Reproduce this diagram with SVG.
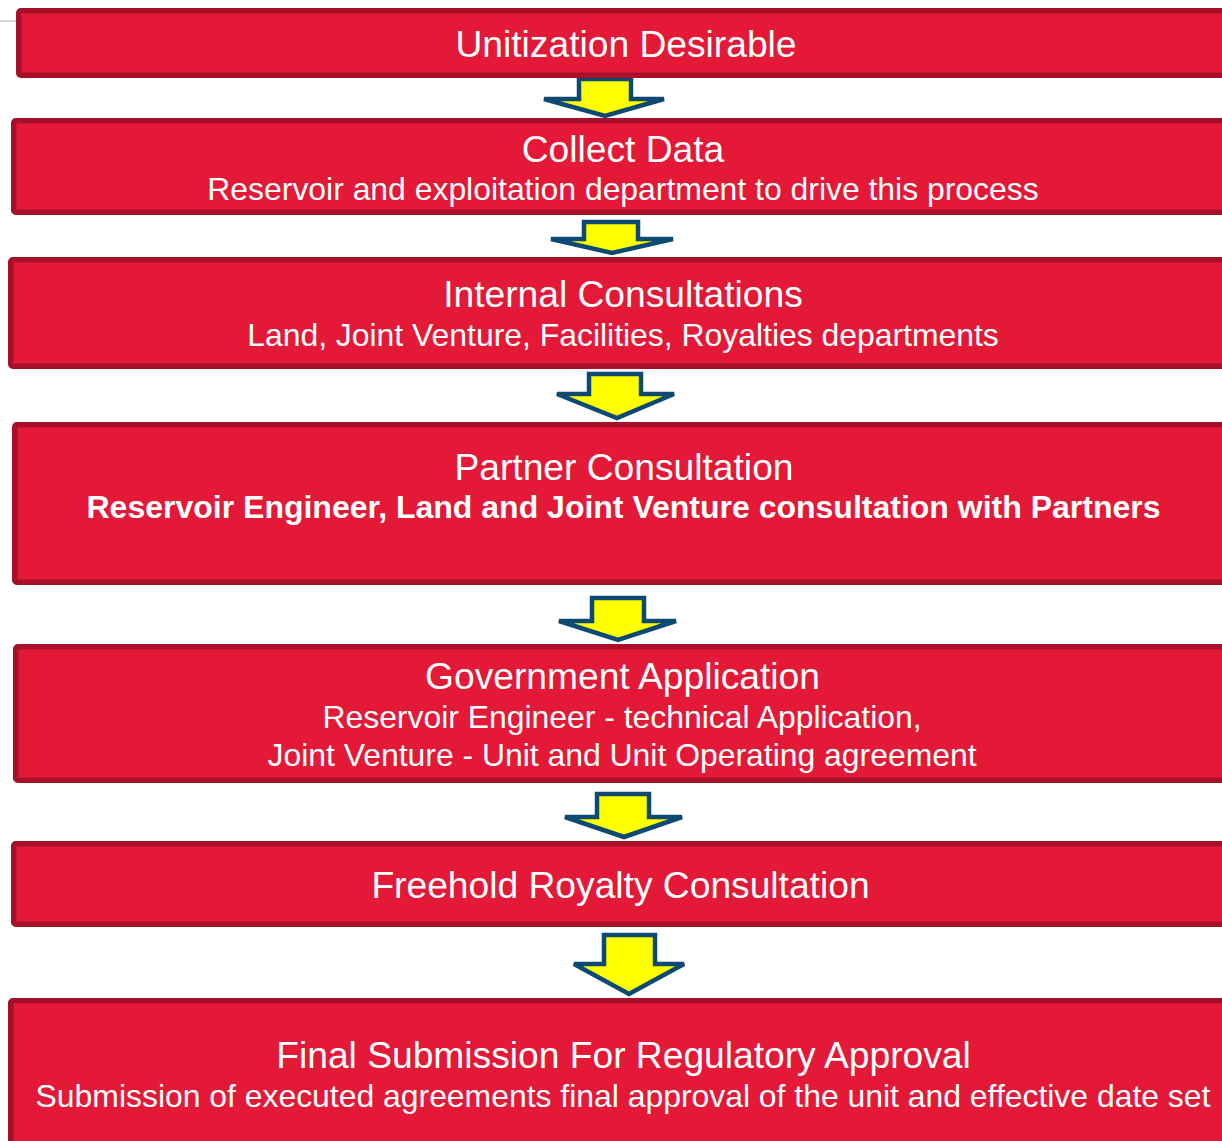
<svg xmlns="http://www.w3.org/2000/svg" width="1222" height="1141" viewBox="0 0 1222 1141">
<style>
.box{fill:#E31937;stroke:#A8102A;stroke-width:5.5}
.arr{fill:#FFFF00;stroke:#0C4A73;stroke-width:4.5;stroke-linejoin:miter}
.t{font-family:"Liberation Sans",Arial,sans-serif;fill:#FFFFFF;text-anchor:middle}
.h{font-size:37.2px}
.s{font-size:31.9px}
.b{font-size:32px;font-weight:bold}
</style>
<rect width="1222" height="1141" fill="#FFFFFF"/>
<line x1="0" y1="21" x2="16" y2="21" stroke="#C8C8C8" stroke-width="1.5"/>
<g id="connectors">
<polygon class="arr" points="579,79 631,79 631,99 664,99 605,116 544,99 579,99"/>
<polygon class="arr" points="584,222 638,222 638,239 673,239 612,253 551,239 584,239"/>
<polygon class="arr" points="589,374 641,374 641,394 674,394 617,418 557,394 589,394"/>
<polygon class="arr" points="592,598 644,598 644,621 676,621 618,640 559,621 592,621"/>
<polygon class="arr" points="597,794 649,794 649,817 682,817 624,837 565,817 597,817"/>
<polygon class="arr" points="604,935 655,935 655,964 684,964 629,994 574,964 604,964"/>
</g>
<g id="n1">
<rect class="box" x="18.75" y="10.75" width="1230" height="64.5" rx="2"/>
<text class="t h" x="626" y="57">Unitization Desirable</text>
</g>
<g id="n2">
<rect class="box" x="13.75" y="120.75" width="1230" height="91.5" rx="2"/>
<text class="t h" x="623" y="162">Collect Data</text>
<text class="t s" x="623" y="200">Reservoir and exploitation department to drive this process</text>
</g>
<g id="n3">
<rect class="box" x="10.75" y="259.75" width="1230" height="106.5" rx="2"/>
<text class="t h" x="623" y="307">Internal Consultations</text>
<text class="t s" x="623" y="346">Land, Joint Venture, Facilities, Royalties departments</text>
</g>
<g id="n4">
<rect class="box" x="14.75" y="424.75" width="1230" height="157.5" rx="2"/>
<text class="t h" x="624" y="480">Partner Consultation</text>
<text class="t b" x="623.5" y="518">Reservoir Engineer, Land and Joint Venture consultation with Partners</text>
</g>
<g id="n5">
<rect class="box" x="15.75" y="646.75" width="1230" height="133.5" rx="2"/>
<text class="t h" x="622.5" y="689">Government Application</text>
<text class="t s" x="622" y="728">Reservoir Engineer - technical Application,</text>
<text class="t s" x="622" y="766">Joint Venture - Unit and Unit Operating agreement</text>
</g>
<g id="n6">
<rect class="box" x="13.75" y="843.75" width="1230" height="80.5" rx="2"/>
<text class="t h" x="620.5" y="898">Freehold Royalty Consultation</text>
</g>
<g id="n7">
<rect class="box" x="10.75" y="1000.75" width="1230" height="160" rx="2"/>
<text class="t h" x="623.5" y="1068">Final Submission For Regulatory Approval</text>
<text class="t s" x="623" y="1107">Submission of executed agreements final approval of the unit and effective date set</text>
</g>
</svg>
